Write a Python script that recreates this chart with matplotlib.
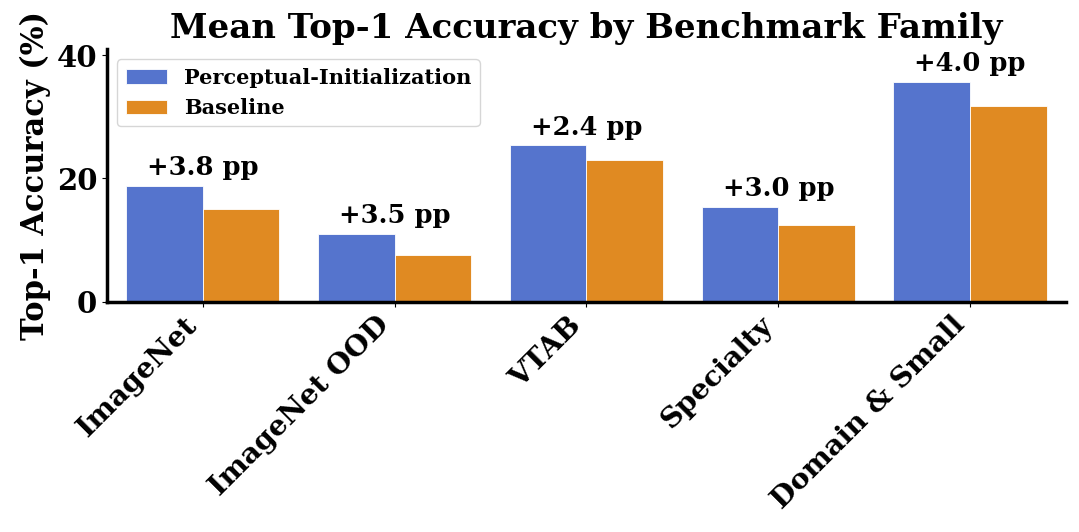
import matplotlib
matplotlib.use("Agg")
import matplotlib.pyplot as plt
import numpy as np

categories = ["ImageNet", "ImageNet OOD", "VTAB", "Specialty", "Domain & Small"]
perceptual = [18.8, 11.0, 25.4, 15.4, 35.7]
baseline = [15.0, 7.5, 23.0, 12.4, 31.7]
series_names = ["Perceptual-Initialization", "Baseline"]
colors = ["#5574cd", "#e08a22"]

plt.rcParams["font.family"] = ["DejaVu Serif"]
plt.rcParams["font.weight"] = "bold"

fig = plt.figure(figsize=(10.79, 5.32), dpi=100)
ax = fig.add_axes([0.099, 0.433, 0.889, 0.475])

x = np.arange(len(categories))
w = 0.4
ax.bar(x - w / 2, perceptual, width=w, color=colors[0], edgecolor="white", linewidth=0.6, label=series_names[0])
ax.bar(x + w / 2, baseline, width=w, color=colors[1], edgecolor="white", linewidth=0.6, label=series_names[1])

for xi, p, b in zip(x, perceptual, baseline):
    top = max(p, b)
    ax.text(xi, top + 0.9, f"+{p - b:.1f} pp", ha="center", va="bottom",
            fontsize=18.5, fontweight="bold")

ax.set_xlim(-0.5, len(categories) - 0.5)
ax.set_ylim(0, 41)
ax.set_yticks([0, 20, 40])
ax.set_xticks(x)
ax.set_xticklabels(categories, rotation=45, ha="right",
                   fontsize=20.5, fontweight="bold")
ax.tick_params(axis="y", labelsize=21)
for lab in ax.get_yticklabels():
    lab.set_fontweight("bold")
ax.set_ylabel("Top-1 Accuracy (%)", fontsize=22, fontweight="bold", labelpad=4)
ax.set_title("Mean Top-1 Accuracy by Benchmark Family", fontsize=24.5, fontweight="bold", pad=8)

for s in ["top", "right"]:
    ax.spines[s].set_visible(False)
for s in ["left", "bottom"]:
    ax.spines[s].set_linewidth(2.5)

leg = ax.legend(loc="upper left", prop={"weight": "bold", "size": 15}, framealpha=0.8,
                borderaxespad=0.5)

fig.savefig("out.png", dpi=100)
